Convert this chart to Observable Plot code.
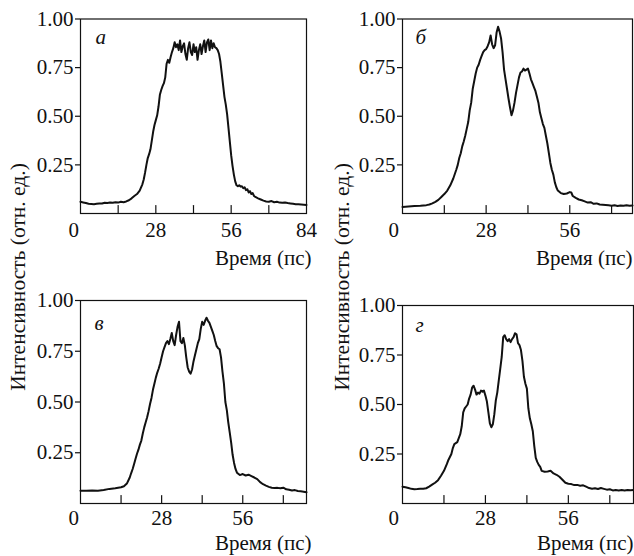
<!DOCTYPE html>
<html><head><meta charset="utf-8">
<script src="https://cdn.jsdelivr.net/npm/d3@7"></script>
<script src="https://cdn.jsdelivr.net/npm/@observablehq/plot@0.6"></script>
<style>
body{margin:0;background:#fff;}
#root{position:relative;width:634px;height:556px;font-family:'Liberation Serif';color:#111;overflow:hidden;}
.panel{position:absolute;}
.ylab{position:absolute;font-family:'Liberation Serif';font-size:21.5px;white-space:nowrap;transform:translate(-50%,-50%) rotate(-90deg);}
</style></head><body><div id="root"></div>
<script>
// ---- data (time in ps, intensity in arb. units) ----
const timeA = [0,1,2,3,4,5,6,7,8,9,10,11,12,13,14,15,16,17,18,19,20,21,22,23,23.5,24,24.5,25,25.5,26,26.5,27,27.5,28,28.5,29,29.5,30,30.5,31,31.5,32,32.5,33,33.5,34,34.5,35,35.5,36,36.5,37,37.5,38,38.5,39,39.5,40,40.5,41,41.5,42,42.5,43,43.5,44,44.5,45,45.5,46,46.5,47,47.5,48,48.5,49,49.5,50,50.5,51,51.5,52,52.5,53,53.5,54,54.5,55,55.5,56,56.5,57,57.5,58,58.5,59,59.5,60,60.5,61,61.5,62,62.5,63,63.5,64,64.5,65,66,67,68,69,70,71,72,73,74,75,76,77,78,79,80,81,82,83,84];
const intensityA = [0.060,0.057,0.054,0.050,0.049,0.048,0.050,0.052,0.051,0.055,0.054,0.057,0.055,0.058,0.056,0.060,0.058,0.062,0.068,0.078,0.090,0.100,0.118,0.150,0.175,0.210,0.250,0.285,0.305,0.330,0.375,0.420,0.455,0.480,0.505,0.550,0.610,0.635,0.655,0.670,0.700,0.770,0.790,0.775,0.805,0.830,0.850,0.880,0.855,0.870,0.840,0.890,0.830,0.860,0.875,0.820,0.790,0.850,0.880,0.830,0.815,0.870,0.830,0.855,0.790,0.840,0.870,0.820,0.860,0.890,0.830,0.880,0.895,0.840,0.890,0.850,0.875,0.855,0.850,0.840,0.820,0.780,0.720,0.660,0.600,0.560,0.510,0.440,0.370,0.300,0.245,0.200,0.165,0.145,0.140,0.145,0.138,0.140,0.130,0.135,0.120,0.125,0.108,0.115,0.100,0.105,0.090,0.085,0.078,0.072,0.066,0.062,0.060,0.064,0.058,0.060,0.056,0.055,0.057,0.054,0.052,0.050,0.048,0.047,0.046,0.045,0.044];

const timeB = [0,2,4,6,8,9,10,11,12,13,14,15,16,17,18,18.5,19,19.5,20,20.5,21,21.5,22,22.5,23,23.5,24,24.5,25,25.5,26,26.5,27,27.5,28,28.5,29,29.5,30,30.5,31,31.5,32,32.5,33,33.5,34,34.5,35,35.5,36,36.5,37,37.5,38,38.5,39,39.5,40,40.5,41,41.5,42,42.5,43,43.5,44,44.5,45,45.5,46,46.5,47,47.5,48,48.5,49,49.5,50,50.5,51,51.5,52,53,54,55,56,56.5,57,58,59,60,61,62,63,64,65,66,67,68,69,70,71,72,73,74,75,76,77];
const intensityB = [0.034,0.036,0.038,0.040,0.043,0.046,0.052,0.060,0.070,0.085,0.100,0.118,0.145,0.180,0.225,0.250,0.285,0.310,0.345,0.370,0.400,0.435,0.470,0.530,0.570,0.640,0.680,0.720,0.750,0.765,0.790,0.810,0.830,0.840,0.845,0.860,0.880,0.915,0.870,0.850,0.865,0.930,0.960,0.935,0.900,0.830,0.740,0.690,0.640,0.590,0.545,0.505,0.530,0.570,0.620,0.660,0.700,0.725,0.730,0.745,0.735,0.740,0.745,0.720,0.690,0.670,0.650,0.630,0.600,0.570,0.520,0.490,0.460,0.440,0.400,0.360,0.310,0.260,0.225,0.200,0.160,0.135,0.118,0.105,0.100,0.103,0.110,0.108,0.090,0.080,0.072,0.068,0.062,0.056,0.058,0.050,0.052,0.046,0.045,0.044,0.042,0.040,0.042,0.039,0.041,0.040,0.042,0.040,0.041];

const timeC = [0,2,4,6,8,10,12,14,15,16,17,17.5,18,18.5,19,19.5,20,20.5,21,21.5,22,22.5,23,23.5,24,24.5,25,25.5,26,26.5,27,27.5,28,28.5,29,29.5,30,30.5,31,31.5,32,32.5,33,33.5,34,34.5,35,35.5,36,36.5,37,37.5,38,38.5,39,39.5,40,40.5,41,41.5,42,42.5,43,43.5,44,44.5,45,45.5,46,46.5,47,47.5,48,48.5,49,49.5,50,50.5,51,51.5,52,52.5,53,53.5,54,55,56,57,58,59,60,61,62,63,64,65,66,67,68,69,70,71,72,73,74,75,76,77,78];
const intensityC = [0.063,0.063,0.064,0.063,0.067,0.072,0.075,0.080,0.085,0.098,0.128,0.150,0.170,0.195,0.220,0.245,0.265,0.290,0.310,0.345,0.375,0.400,0.425,0.455,0.490,0.520,0.560,0.590,0.620,0.645,0.665,0.690,0.720,0.750,0.770,0.790,0.800,0.785,0.810,0.840,0.800,0.780,0.830,0.870,0.895,0.800,0.790,0.815,0.780,0.720,0.670,0.650,0.640,0.660,0.700,0.730,0.760,0.790,0.810,0.860,0.895,0.880,0.900,0.915,0.900,0.890,0.870,0.850,0.830,0.800,0.775,0.765,0.760,0.720,0.650,0.590,0.500,0.460,0.400,0.350,0.300,0.240,0.200,0.170,0.152,0.140,0.145,0.138,0.142,0.135,0.128,0.120,0.105,0.095,0.088,0.082,0.078,0.076,0.077,0.075,0.078,0.070,0.068,0.064,0.066,0.062,0.060,0.058,0.055];

const timeD = [0,1,2,3,4,5,6,7,8,9,10,11,12,13,14,15,15.5,16,16.5,17,17.5,18,18.5,19,19.5,20,20.5,21,21.5,22,22.5,23,23.5,24,24.5,25,25.5,26,26.5,27,27.5,28,28.5,29,29.5,30,30.5,31,31.5,32,32.5,33,33.5,34,34.5,35,35.5,36,36.5,37,37.5,38,38.5,39,39.5,40,40.5,41,41.5,42,42.5,43,43.5,44,44.5,45,45.5,46,46.5,47,48,49,50,51,52,53,54,55,56,57,58,59,60,61,62,63,64,65,66,67,68,69,70,71,72,73,74,75,76,77,78];
const intensityD = [0.085,0.082,0.078,0.074,0.072,0.073,0.075,0.074,0.077,0.085,0.095,0.105,0.118,0.140,0.165,0.200,0.220,0.235,0.250,0.280,0.300,0.305,0.310,0.330,0.350,0.390,0.460,0.480,0.490,0.500,0.530,0.550,0.585,0.595,0.575,0.550,0.560,0.555,0.570,0.565,0.570,0.545,0.515,0.460,0.405,0.385,0.400,0.450,0.520,0.560,0.620,0.680,0.740,0.840,0.850,0.830,0.820,0.830,0.815,0.830,0.840,0.860,0.855,0.810,0.800,0.775,0.720,0.640,0.605,0.580,0.480,0.430,0.400,0.365,0.290,0.230,0.210,0.195,0.185,0.165,0.160,0.162,0.165,0.152,0.145,0.135,0.120,0.105,0.100,0.098,0.093,0.094,0.090,0.092,0.085,0.078,0.075,0.077,0.073,0.078,0.074,0.070,0.072,0.066,0.068,0.066,0.068,0.066,0.068,0.067,0.068];

const yTicks = [0.25, 0.50, 0.75, 1.00];
const xLabelTicksA = [28, 56, 84];
const xLabelTicks = [28, 56];
const minorTicks = [14, 28, 42, 56, 70];
const panelLetters = ["а", "б", "в", "г"];
const xTitle = "Время (пс)";
const yTitle = "Интенсивность (отн. ед.)";

// ---- drawing ----
const FONT = "Liberation Serif";
const root = document.getElementById("root");
const tickShape = {draw(ctx, l) { ctx.moveTo(0, 0); ctx.lineTo(0, -l); }};

function panel(o) {
  const data = o.time.map((t, i) => ({t, v: o.value[i]}));
  const chart = Plot.plot({
    width: o.width, height: o.height,
    marginTop: o.mt, marginBottom: o.mb, marginLeft: o.ml, marginRight: o.mr,
    style: {fontFamily: FONT, fontSize: "21px", color: "#111", background: "transparent", overflow: "visible"},
    x: {domain: [0, o.xMax]},
    y: {domain: [0, 1]},
    marks: [
      Plot.line(data, {x: "t", y: "v", stroke: "#111", strokeWidth: 2, strokeLinejoin: "round"}),
      Plot.frame({stroke: "#111", strokeWidth: 1.2}),
      Plot.axisY({ticks: yTicks, tickFormat: d3.format(".2f"), tickSize: 5, tickPadding: 2, label: null, stroke: "#111", strokeWidth: 1.2, fontFamily: FONT, fontSize: 21}),
      Plot.axisX({ticks: o.labelTicks, tickSize: 0, tickPadding: o.tickPad, label: null, fontFamily: FONT, fontSize: 21}),
      Plot.vector(minorTicks.filter(d => d < o.xMax), {x: d => d, frameAnchor: "bottom", length: 8, anchor: "start", shape: tickShape, stroke: "#111", strokeWidth: 1.2}),
      Plot.text(["0"], {text: d => d, frameAnchor: "bottom-left", lineAnchor: "top", dx: o.zeroDx, dy: o.tickPad, fontFamily: FONT, fontSize: 21}),
      Plot.text([o.letter], {text: d => d, frameAnchor: "top-left", lineAnchor: "top", textAnchor: "start", dx: o.letterDx, dy: o.letterDy, fontStyle: "italic", fontFamily: FONT, fontSize: 21}),
      Plot.text([xTitle], {text: d => d, frameAnchor: "bottom-right", lineAnchor: "top", textAnchor: "end", dx: o.titleDx, dy: o.titleDy, fontFamily: FONT, fontSize: 21})
    ]
  });
  chart.setAttribute("font-family", FONT);
  chart.classList.add("panel");
  chart.style.left = o.left + "px";
  chart.style.top = o.top + "px";
  root.appendChild(chart);
}

panel({time: timeA, value: intensityA, xMax: 84, labelTicks: xLabelTicksA, letter: panelLetters[0],
  left: 0, top: 0, width: 317, height: 280, mt: 18.5, mb: 67, ml: 80, mr: 11, tickPad: 9,
  zeroDx: -12, letterDx: 15, letterDy: 10, titleDx: 5, titleDy: 37});
panel({time: timeB, value: intensityB, xMax: 77, labelTicks: xLabelTicks, letter: panelLetters[1],
  left: 317, top: 0, width: 317, height: 280, mt: 18.5, mb: 67, ml: 85, mr: 2, tickPad: 9,
  zeroDx: -14, letterDx: 13, letterDy: 10, titleDx: 0, titleDy: 37});
panel({time: timeC, value: intensityC, xMax: 78, labelTicks: xLabelTicks, letter: panelLetters[2],
  left: 0, top: 280, width: 317, height: 276, mt: 20, mb: 53, ml: 80, mr: 11, tickPad: 7,
  zeroDx: -12, letterDx: 14, letterDy: 15, titleDx: 5, titleDy: 32});
panel({time: timeD, value: intensityD, xMax: 78, labelTicks: xLabelTicks, letter: panelLetters[3],
  left: 317, top: 280, width: 317, height: 276, mt: 25, mb: 53, ml: 85, mr: 1, tickPad: 7,
  zeroDx: -14, letterDx: 13, letterDy: 12, titleDx: 0, titleDy: 32});

for (const x of [18, 342]) {
  const d = document.createElement("div");
  d.className = "ylab";
  d.textContent = yTitle;
  d.style.left = x + "px";
  d.style.top = "277px";
  root.appendChild(d);
}
</script></body></html>
